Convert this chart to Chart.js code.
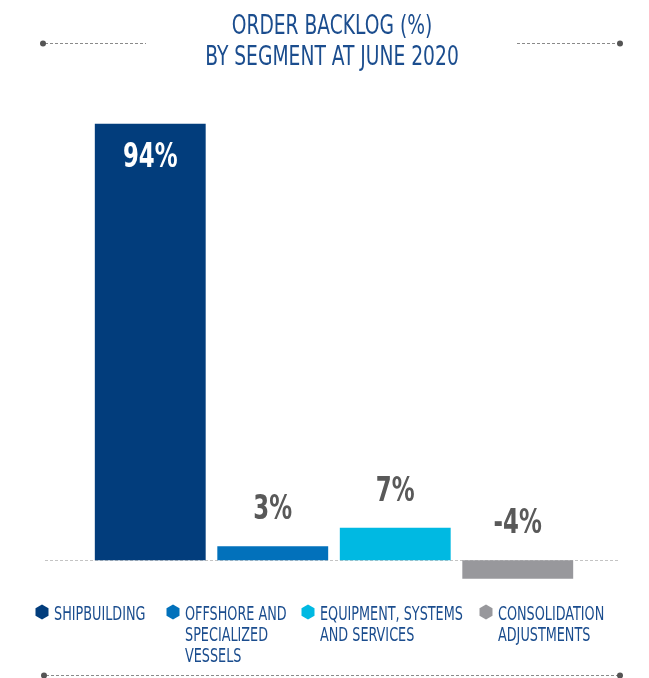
<!DOCTYPE html>
<html lang="en">
<head>
  <meta charset="UTF-8" />
  <title>Order backlog by segment</title>
  <script src="https://cdn.jsdelivr.net/npm/chart.js"></script>
  <style>
    html, body { margin: 0; padding: 0; background: #fff; }
    #grafico { display: block; }
  </style>
</head>
<body>
  <canvas id="grafico" width="649" height="678"></canvas>

<script>
  // dados
  const segmentos = [
    ["SHIPBUILDING"],
    ["OFFSHORE AND", "SPECIALIZED", "VESSELS"],
    ["EQUIPMENT, SYSTEMS", "AND SERVICES"],
    ["CONSOLIDATION", "ADJUSTMENTS"]
  ];
  const valores = [94, 3, 7, -4];
  const cores = ["#023d7c", "#0271bb", "#00b9e2", "#98989c"];
  const titulo = ["ORDER BACKLOG (%)", "BY SEGMENT AT JUNE 2020"];

  const FONTE = '"DejaVu Sans Condensed", "Liberation Sans", sans-serif';
  const AZUL_TEXTO = "#1b4d8e";

  // escreve texto comprimido na horizontal (fonte condensada)
  function texto(ctx, t, x, y, align, estreito) {
    ctx.save();
    ctx.translate(x, y);
    ctx.scale(estreito || 0.77, 1);
    ctx.textAlign = align;
    ctx.fillText(t, 0, 0);
    ctx.restore();
  }

  function hexagono(ctx, x, y, r) {
    ctx.beginPath();
    for (let i = 0; i < 6; i++) {
      const a = Math.PI / 3 * i - Math.PI / 2;
      const px = x + r * Math.cos(a), py = y + r * Math.sin(a);
      if (i == 0) ctx.moveTo(px, py); else ctx.lineTo(px, py);
    }
    ctx.closePath();
    ctx.fill();
  }

  function linhaPontilhada(ctx, x1, x2, y, pontoEsq, pontoDir) {
    ctx.save();
    ctx.strokeStyle = "#8a8a8a";
    ctx.lineWidth = 1;
    ctx.setLineDash([3, 2]);
    ctx.beginPath();
    ctx.moveTo(x1, y + 0.5);
    ctx.lineTo(x2, y + 0.5);
    ctx.stroke();
    ctx.fillStyle = "#555";
    if (pontoEsq) { ctx.beginPath(); ctx.arc(x1 - 2, y + 0.5, 3, 0, Math.PI * 2); ctx.fill(); }
    if (pontoDir) { ctx.beginPath(); ctx.arc(x2 + 2, y + 0.5, 3, 0, Math.PI * 2); ctx.fill(); }
    ctx.restore();
  }

  // titulo, linha do zero, rotulos e legenda desenhados a mao
  const decoracao = {
    id: "decoracao",
    beforeDatasetsDraw(chart) {
      const ctx = chart.ctx;
      const y0 = chart.scales.y.getPixelForValue(0);
      ctx.save();
      ctx.strokeStyle = "#c4c4c4";
      ctx.setLineDash([3, 2]);
      ctx.beginPath();
      ctx.moveTo(45, Math.round(y0) + 0.5);
      ctx.lineTo(618, Math.round(y0) + 0.5);
      ctx.stroke();
      ctx.restore();
    },
    afterDatasetsDraw(chart) {
      const ctx = chart.ctx;
      const meta = chart.getDatasetMeta(0);
      const y0 = chart.scales.y.getPixelForValue(0);

      ctx.save();
      ctx.textBaseline = "alphabetic";
      ctx.font = "bold 33px " + FONTE;
      meta.data.forEach((bar, i) => {
        const v = valores[i];
        if (i == 0) {
          ctx.fillStyle = "#fff";
          texto(ctx, v + "%", bar.x, bar.y + 43, "center");
        } else {
          ctx.fillStyle = "#595959";
          texto(ctx, v + "%", bar.x, Math.min(bar.y, y0) - 27, "center");
        }
      });

      // titulo
      ctx.fillStyle = AZUL_TEXTO;
      ctx.font = "27px " + FONTE;
      texto(ctx, titulo[0], 332, 34, "center");
      texto(ctx, titulo[1], 332, 65, "center");

      linhaPontilhada(ctx, 45, 146, 43, true, false);
      linhaPontilhada(ctx, 517, 618, 43, false, true);
      linhaPontilhada(ctx, 46, 618, 675, true, true);

      // legenda
      const xs = [42, 173, 308, 486];
      ctx.font = "19.5px " + FONTE;
      segmentos.forEach((linhas, i) => {
        ctx.fillStyle = cores[i];
        hexagono(ctx, xs[i], 612, 7.5);
        ctx.fillStyle = AZUL_TEXTO;
        linhas.forEach((t, j) => texto(ctx, t, xs[i] + 12, 620 + j * 21, "left", 0.73));
      });
      ctx.restore();
    }
  };

  new Chart(document.getElementById("grafico").getContext("2d"), {
    type: "bar",
    data: {
      labels: segmentos.map(s => s.join(" ")),
      datasets: [{
        data: valores,
        backgroundColor: cores,
        barPercentage: 0.905,
        categoryPercentage: 1
      }]
    },
    options: {
      responsive: false,
      animation: false,
      layout: { padding: { left: 89, right: 70, top: 96, bottom: 90 } },
      plugins: { legend: { display: false }, tooltip: { enabled: false } },
      scales: {
        x: { display: false },
        y: { display: false, min: -6, max: 100 }
      }
    },
    plugins: [decoracao]
  });
</script>
</body>
</html>
